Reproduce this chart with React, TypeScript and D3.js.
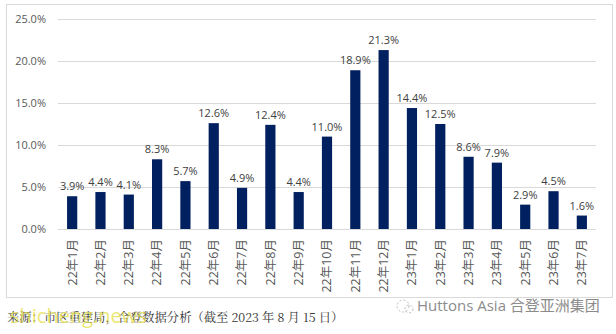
import React from "react";
import * as d3 from "d3";

const categories = ["22年1月","22年2月","22年3月","22年4月","22年5月","22年6月","22年7月","22年8月","22年9月","22年10月","22年11月","22年12月","23年1月","23年2月","23年3月","23年4月","23年5月","23年6月","23年7月"];
const values = [3.9,4.4,4.1,8.3,5.7,12.6,4.9,12.4,4.4,11.0,18.9,21.3,14.4,12.5,8.6,7.9,2.9,4.5,1.6];
const yTicks = [0,5,10,15,20,25];
const sourceText = "来源：市区重建局，合登数据分析（截至 2023 年 8 月 15 日）";
const brandText = "Huttons Asia 合登亚洲集团";
const watermark = "shicheng.news";

export default function App() {
  const W = 616, H = 334;
  const left = 58, right = 596, top = 19, bottom = 229;
  const x = d3.scaleBand<string>().domain(categories).range([left, right]).paddingInner(0.64).paddingOuter(0.32);
  const y = d3.scaleLinear().domain([0, 25]).range([bottom, top]);
  const font = "'Open Sans', 'Noto Sans CJK SC', sans-serif";
  return (
    <svg width={W} height={H} style={{ position: "absolute", left: 0, top: 0, background: "#fff" }}>
      <rect x={0} y={0} width={W} height={H} fill="#fff" />
      <rect x={6.5} y={4.5} width={606} height={293} fill="#fff" stroke="#d9d9d9" strokeWidth={1} />
      {yTicks.map(t => (
        <g key={t}>
          <line x1={left} x2={right} y1={Math.round(y(t)) + 0.5} y2={Math.round(y(t)) + 0.5} stroke="#d9d9d9" strokeWidth={1} />
          <text x={46} y={y(t)} dy="0.35em" textAnchor="end" fontSize={11} fill="#595959" fontFamily={font}>{t.toFixed(1)}%</text>
        </g>
      ))}
      {categories.map((c, i) => (
        <g key={c}>
          <rect x={x(c)!} y={y(values[i])} width={x.bandwidth()} height={bottom - y(values[i])} fill="#002060" />
          <text x={x(c)! + x.bandwidth() / 2} y={y(values[i]) - 6} textAnchor="middle" fontSize={11} fill="#404040" fontFamily={font}>{values[i].toFixed(1)}%</text>
          <text transform={`translate(${x(c)! + x.bandwidth() / 2},239) rotate(-90)`} textAnchor="end" dy="0.35em" fontSize={12.5} fill="#595959" fontFamily={font}>{c}</text>
        </g>
      ))}
      <text x={7} y={322} fontSize={12.3} fill="#333" fontFamily="'Noto Serif CJK SC', 'Noto Sans CJK SC', serif">{sourceText}</text>
      <text x={10} y={323} fontSize={20} fill="#e6e04a" opacity={0.75} fontFamily="'Open Sans', sans-serif">{watermark}</text>
      <g transform="translate(395,306)" stroke="#bbb" fill="none" strokeWidth={1}>
        <circle cx={8} cy={0} r={6} strokeDasharray="2 2" />
        <circle cx={14} cy={3} r={4} strokeDasharray="2 2" />
      </g>
      <text x={417} y={311} fontSize={15} fill="#8c8c8c" fontFamily={font}>{brandText}</text>
    </svg>
  );
}
